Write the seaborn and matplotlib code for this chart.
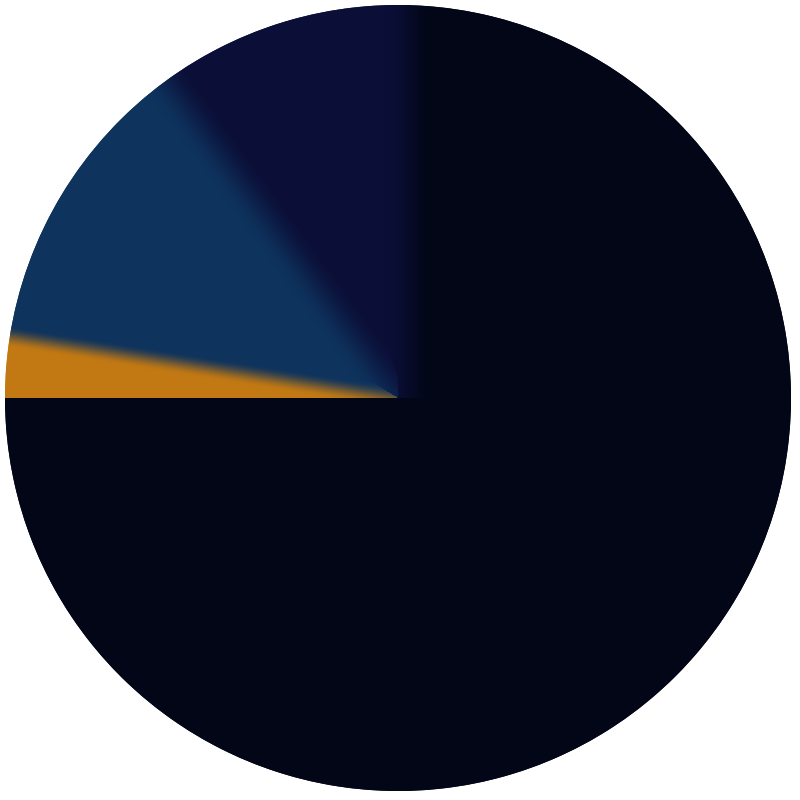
import numpy as np
import matplotlib
matplotlib.use("Agg")
import matplotlib.pyplot as plt
from matplotlib.patches import Circle
import seaborn as sns

# slice shares (percent), drawn clockwise from 12 o'clock
shares = [75, 2.5, 12.5, 10]
slice_colors = ["#020617", "#c27913", "#0e335d", "#0b0f38"]

# soft edge after each slice: (blend width, offset) in radius units, 0 = hard edge
edge_width = [0.0, 0.056, 0.12, 0.13]
edge_offset = [0.0, 0.0, 0.0, -0.03]

sns.set_style("white")

fig = plt.figure(figsize=(8, 8), dpi=100)
ax = fig.add_axes([0, 0, 1, 1])

pie_radius = 1.0
wedges, _ = ax.pie(shares, colors=slice_colors, startangle=90,
                   counterclock=False, radius=pie_radius,
                   wedgeprops=dict(linewidth=0, edgecolor="none"))

# limits so the pie sits where it does in the picture (radius ~393 px)
ax.set_xlim(-398 / 393, 402 / 393)
ax.set_ylim(-402 / 393, 398 / 393)
ax.set_aspect("equal")
ax.axis("off")

# gradient fill: blend neighbouring slice colours across the slice edges
n = 800
xs = np.linspace(*ax.get_xlim(), n)
ys = np.linspace(*ax.get_ylim(), n)
X, Y = np.meshgrid(xs, ys)
rgb = np.array([matplotlib.colors.to_rgb(c) for c in slice_colors])

ang = np.degrees(np.arctan2(Y, X))
cw = (90 - ang) % 360  # clockwise angle from the top
bounds = np.cumsum(shares) / sum(shares) * 360
idx = np.searchsorted(bounds, cw, side="right").clip(0, len(shares) - 1)
img = rgb[idx].copy()

best = np.full(X.shape, np.inf)
for i, w in enumerate(edge_width):
    if w <= 0:
        continue
    j = (i + 1) % len(shares)
    phi = np.radians(90 - bounds[i])
    along = X * np.cos(phi) + Y * np.sin(phi)
    d = -X * np.sin(phi) + Y * np.cos(phi) - edge_offset[i]
    m = ((along > 0) & (np.abs(d) < w / 2) & (np.abs(d) < best)
         & ((idx == i) | (idx == j)))
    t = np.clip(d / w + 0.5, 0, 1)
    t = t * t * (3 - 2 * t)
    mix = t[..., None] * rgb[i] + (1 - t[..., None]) * rgb[j]
    img[m] = mix[m]
    best = np.where(m, np.abs(d), best)

im = ax.imshow(img, origin="lower", extent=(xs[0], xs[-1], ys[0], ys[-1]),
               interpolation="bilinear", zorder=3)
clip = Circle((0, 0), pie_radius, transform=ax.transData)
im.set_clip_path(clip)

fig.savefig("out.png", dpi=100, facecolor="white")
